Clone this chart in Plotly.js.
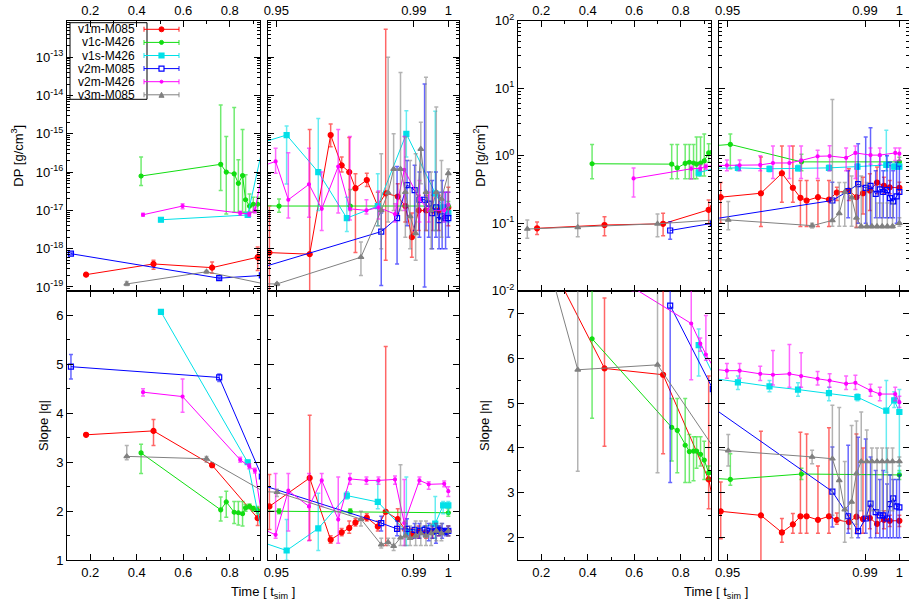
<!DOCTYPE html>
<html><head><meta charset="utf-8">
<script src="https://cdn.plot.ly/plotly-3.0.1.min.js"></script>
<style>html,body{margin:0;padding:0;background:#fff}#chart{width:909px;height:608px}</style>
</head><body><div id="chart"></div><script>
// ---------------- data ----------------
const SERIES_NAMES = ['v1m-M085','v1c-M426','v1s-M426','v2m-M085','v2m-M426','v3m-M085'];
const LOG_TICKS_DP3 = [1e-19,1e-18,1e-17,1e-16,1e-15,1e-14,1e-13];
const LOG_TEXT_DP3 = ['10<sup>-19</sup>','10<sup>-18</sup>','10<sup>-17</sup>','10<sup>-16</sup>','10<sup>-15</sup>','10<sup>-14</sup>','10<sup>-13</sup>'];
const LOG_TICKS_DP2 = [1e-2,1e-1,1,10,100];
const LOG_TEXT_DP2 = ['10<sup>-2</sup>','10<sup>-1</sup>','10<sup>0</sup>','10<sup>1</sup>','10<sup>2</sup>'];
const X_TICKS_EARLY = [0.2,0.4,0.6,0.8];
const X_TEXT_EARLY = ['0.2','0.4','0.6','0.8'];
const X_TICKS_LATE = [0.95,0.99,1];
const X_TEXT_LATE = ['0.95','0.99','1'];

// v1m-M085 (red)
const T_V1M = [0.182,0.472,0.724,0.92,0.948,0.9597,0.9658,0.969,0.9712,0.973,0.9763,0.9795,0.9818,0.9853,0.9875,0.9894,0.9914,0.9935,0.9955,0.9972,1.0];
const DP3_V1M = [2.1e-19,4e-19,3.2e-19,6e-19,7.9e-19,7.2e-19,9.3e-16,1.5e-16,1e-16,3.8e-17,6.2e-17,1.3e-17,2.8e-17,2.3e-17,1.3e-17,2e-18,1e-17,1e-17,1e-17,1e-17,1.2e-17];
const DP3_LO_V1M = [1.9e-19,2.9e-19,2.3e-19,2.7e-19,1e-20,1e-20,4.6e-16,1e-16,1.3e-17,8e-19,4.2e-17,4e-18,5e-19,8e-18,5e-18,6e-19,3e-18,3e-18,3e-18,3e-18,4e-18];
const DP3_HI_V1M = [2.3e-19,5e-19,4.5e-19,1.1e-18,1.3e-17,1.3e-15,1.8e-15,2.5e-16,8e-16,9e-17,9.3e-17,3e-17,5.4e-13,5e-17,3e-17,8.5e-18,2.5e-17,2.5e-17,2.5e-17,2.5e-17,4e-17];
const DP2_V1M = [0.084,0.094,0.098,0.158,0.243,0.278,0.55,0.335,0.238,0.217,0.243,0.224,0.285,0.305,0.243,0.278,0.305,0.40,0.358,0.34,0.335];
const DP2_LO_V1M = [0.068,0.065,0.065,0.098,0.1,0.089,0.204,0.204,0.089,0.089,0.089,0.089,0.217,0.217,0.087,0.137,0.154,0.272,0.272,0.272,0.272];
const DP2_HI_V1M = [0.104,0.125,0.14,0.22,0.4,0.953,1.39,1.39,0.43,0.43,0.43,0.43,0.342,0.64,0.64,0.48,0.54,0.68,0.48,0.43,0.405];
const Q_V1M = [3.56,3.64,2.94,1.86,2.1,2.68,1.42,1.57,1.66,1.77,1.87,1.69,1.99,1.84,1.62,1.54,1.59,1.57,1.58,1.6,1.6];
const Q_LO_V1M = [3.53,3.34,2.9,1.71,1.63,1.41,1.35,1.5,1.55,1.7,1.8,1.6,1.3,1.6,1.5,1.45,1.45,1.45,1.45,1.5,1.5];
const Q_HI_V1M = [3.59,3.87,2.98,2.07,2.75,3.96,1.5,1.65,1.8,1.85,1.95,1.8,5.36,2.05,1.75,1.65,1.7,1.7,1.7,1.7,1.7];
const N_V1M = [8.7,5.77,5.63,3.3,2.59,2.5,2.12,2.3,2.48,2.48,2.4,2.48,2.4,2.35,2.47,2.42,2.44,2.31,2.4,2.38,2.38];
const N_LO_V1M = [8.5,4.04,3.87,2.65,1.98,1.46,1.9,2.1,2.1,2.1,2.1,2.1,2.3,2.2,2.1,2.1,2.2,2.1,2.2,2.25,2.25];
const N_HI_V1M = [8.9,7.34,7.6,5.6,3.24,4.37,2.43,2.54,4.35,4.31,3.6,4.45,2.55,2.5,4.31,4.0,2.7,2.5,2.6,2.5,2.5];

// v1c-M426 (green)
const T_V1C = [0.4186,0.761,0.785,0.819,0.837,0.855,0.868,0.885,0.901,0.92,0.9508,0.9715,1.0];
const DP3_V1C = [7.9e-17,1.6e-16,1e-16,9e-17,5.1e-17,8.1e-17,1.9e-17,1.3e-17,1.45e-17,1.45e-17,1.3e-17,1.3e-17,1.3e-17];
const DP3_LO_V1C = [4.5e-17,3.3e-17,8e-18,9e-18,9e-18,9e-18,9e-18,9e-18,9e-18,9e-18,9e-18,1e-17,1e-17];
const DP3_HI_V1C = [2.5e-16,5.7e-15,8.5e-16,4.9e-15,2.1e-16,1.3e-15,8.5e-17,2.7e-17,2.2e-17,2.2e-17,2e-17,3.5e-17,1.7e-17];
const DP2_V1C = [0.76,0.75,0.66,0.77,0.8,0.78,0.75,0.78,0.84,1.1,1.47,0.81,0.81];
const DP2_LO_V1C = [0.455,0.455,0.455,0.455,0.455,0.455,0.455,0.5,0.5,0.8,0.64,0.6,0.7];
const DP2_HI_V1C = [1.46,1.46,1.46,1.46,1.46,1.46,1.9,1.9,2.1,1.5,2.1,1.05,0.95];
const Q_V1C = [3.19,2.03,2.19,1.98,1.97,1.95,2.07,2.1,2.06,2.02,2.0,2.0,1.97];
const Q_LO_V1C = [2.77,1.8,1.88,1.75,1.72,1.7,2.0,2.05,2.0,1.95,1.95,1.95,1.9];
const Q_HI_V1C = [3.37,2.29,2.41,2.2,2.2,2.2,2.14,2.15,2.1,2.1,2.05,2.05,2.05];
const N_V1C = [6.43,4.46,4.39,4.06,3.92,3.93,3.93,3.86,3.73,3.45,3.3,3.42,3.4];
const N_LO_V1C = [4.66,3.71,3.45,3.23,3.23,3.27,3.55,3.6,3.3,3.3,3.17,3.3,3.3];
const N_HI_V1C = [7.9,5.1,5.1,5.1,4.3,4.25,4.25,4.25,4.15,3.6,3.87,3.55,3.5];

// v1s-M426 (cyan)
const T_V1S = [0.504,0.877,0.953,0.9622,0.9705,0.9795,0.9878,0.9962,0.9985,1.0];
const DP3_V1S = [5.7e-18,7.6e-18,9.3e-16,1e-16,6.3e-18,1.3e-17,1e-15,2.8e-17,1.2e-17,8.5e-18];
const DP3_LO_V1S = [5.2e-18,6.6e-18,4.9e-17,1e-17,2.8e-18,4e-18,2.5e-16,3e-18,5e-18,5e-18];
const DP3_HI_V1S = [6.2e-18,8.6e-18,1.6e-15,2.5e-15,2.2e-17,9e-17,4e-15,3.9e-15,3e-17,1.5e-17];
const DP2_V1S = [null,0.56,0.66,0.64,0.65,0.66,0.69,0.73,0.69,0.69];
const DP2_LO_V1S = [null,0.5,0.6,0.58,0.6,0.6,0.63,0.6,0.63,0.63];
const DP2_HI_V1S = [null,0.62,0.72,0.7,0.72,0.72,0.76,2.38,0.76,0.76];
const Q_V1S = [6.07,3.0,1.2,1.65,2.32,2.19,1.58,1.75,2.12,2.12];
const Q_LO_V1S = [6.04,2.97,1.0,1.2,2.25,2.05,1.3,1.45,1.95,1.95];
const Q_HI_V1S = [6.1,3.03,1.83,2.37,2.4,2.6,2.7,2.3,2.2,2.2];
const N_V1S = [null,6.29,5.46,5.37,5.3,5.22,5.13,4.83,5.06,4.8];
const N_LO_V1S = [null,5.6,5.3,5.25,5.15,5.05,5.05,3.46,4.9,3.46];
const N_HI_V1S = [null,6.65,5.6,5.5,5.45,5.35,5.2,5.5,5.25,5.3];

// v2m-M085 (blue)
const T_V2M = [0.117,0.7545,0.938,0.9805,0.9851,0.988,0.9902,0.9916,0.9931,0.9943,0.9953,0.9964,0.9973,0.9982,0.9992,1.0];
const DP3_V2M = [7.4e-19,1.7e-19,2e-19,2.8e-18,6.3e-18,4.6e-17,3.4e-17,1.9e-17,1.9e-17,1.5e-17,8.5e-18,1.2e-17,5.6e-18,7e-18,6.3e-18,6.3e-18];
const DP3_LO_V2M = [7e-19,1.6e-19,1.9e-19,1.1e-19,4e-19,4e-18,3e-18,2e-18,1e-19,2e-18,1e-18,2e-18,1e-18,1e-18,1e-18,2e-18];
const DP3_HI_V2M = [7.8e-19,1.8e-19,2.1e-19,8.5e-18,1.4e-16,2e-16,1.5e-16,1e-16,2e-14,1e-16,6e-17,1e-16,3e-17,6e-17,3e-17,3e-17];
const DP2_V2M = [null,0.078,0.1,0.217,0.3,0.38,0.334,0.358,0.272,0.316,0.29,0.31,0.236,0.21,0.25,0.29];
const DP2_LO_V2M = [null,0.058,0.09,0.11,0.12,0.1,0.1,0.09,0.12,0.12,0.12,0.12,0.12,0.12,0.1,0.1];
const DP2_HI_V2M = [null,0.105,0.11,0.405,0.6,1.5,1.9,2.6,0.6,1.0,0.6,1.0,0.8,0.6,0.8,0.7];
const Q_V2M = [4.95,4.73,2.71,1.76,1.64,1.64,1.62,1.6,1.62,1.6,1.58,1.6,1.62,1.6,1.58,1.6];
const Q_LO_V2M = [4.7,4.65,2.65,1.6,1.5,1.5,1.45,1.45,1.5,1.4,1.45,1.35,1.5,1.45,1.5,1.5];
const Q_HI_V2M = [5.2,4.8,2.77,1.9,1.8,1.85,1.75,1.75,1.7,1.75,1.7,1.75,1.7,1.75,1.65,1.7];
const N_V2M = [null,7.17,5.31,3.03,2.48,2.15,2.43,2.76,2.57,2.5,2.5,2.43,2.75,2.88,2.7,2.68];
const N_LO_V2M = [null,3.23,5.2,2.24,2.1,2.0,2.1,2.0,2.0,2.0,2.0,2.0,2.0,2.0,2.0,2.0];
const N_HI_V2M = [null,7.8,5.4,4.02,4.06,4.24,4.2,3.8,3.5,3.3,3.5,3.2,3.4,3.3,3.3,3.4];

// v2m-M426 (magenta)
const T_V2M4 = [0.427,0.597,0.845,0.884,0.908,0.9498,0.9535,0.9595,0.9632,0.968,0.9714,0.9762,0.9797,0.9845,0.9872,0.9916,0.9943,0.9988,1.0];
const DP3_V2M4 = [7.7e-18,1.3e-17,8.5e-18,8e-18,1e-17,1.9e-16,1.9e-17,4.8e-17,1.1e-17,1.4e-16,1.1e-17,1e-17,1.2e-17,8e-18,1.15e-16,2e-17,1e-17,1e-17,1.4e-17];
const DP3_LO_V2M4 = [7e-18,1.1e-17,7.5e-18,7e-18,8.5e-18,9.3e-17,6.3e-18,6.6e-18,3e-18,8.5e-18,5.6e-18,8e-18,6e-18,5e-18,1e-17,5e-18,5e-18,5e-18,8e-18];
const DP3_HI_V2M4 = [8.4e-18,1.5e-17,9.5e-18,9e-18,1.2e-17,4.2e-16,3.2e-16,4.2e-16,1e-16,1.3e-15,8.5e-16,1.9e-17,3.2e-17,1.5e-17,8.5e-16,6e-17,3e-17,3e-17,3e-17];
const DP2_V2M4 = [null,0.46,0.64,0.65,0.69,0.72,0.72,0.73,0.78,0.78,0.85,0.98,0.99,0.93,1.1,1.02,1.02,1.1,1.07];
const DP2_LO_V2M4 = [null,0.245,0.45,0.6,0.63,0.6,0.6,0.6,0.46,0.46,0.46,0.46,0.6,0.6,0.46,0.75,0.75,0.85,0.85];
const DP2_HI_V2M4 = [null,0.66,0.7,0.72,0.75,0.86,0.86,1.0,1.39,1.39,1.39,1.2,1.4,1.3,1.39,1.3,1.3,1.3,1.3];
const Q_V2M4 = [4.43,4.34,3.05,2.92,2.83,1.52,2.42,2.1,2.63,1.83,2.66,2.63,2.63,2.65,1.76,2.63,2.55,2.56,2.41];
const Q_LO_V2M4 = [4.35,4.02,3.0,2.87,2.78,1.45,1.6,1.4,2.1,1.35,2.55,2.55,2.55,2.55,1.3,2.55,2.45,2.5,2.3];
const Q_HI_V2M4 = [4.5,4.7,3.1,2.97,2.88,2.77,2.77,2.77,2.77,2.7,2.77,2.7,2.7,2.72,2.65,2.7,2.6,2.62,2.5];
const N_V2M4 = [8.2,7.56,6.77,6.32,6.08,5.72,5.72,5.65,5.63,5.65,5.6,5.54,5.5,5.43,5.45,5.28,5.2,5.2,5.02];
const N_LO_V2M4 = [8.1,7.5,5.52,6.15,5.95,5.55,5.55,5.5,5.4,5.35,5.35,5.4,5.35,5.3,5.3,5.15,5.05,5.05,4.9];
const N_HI_V2M4 = [8.3,7.6,7.6,6.45,6.95,5.88,5.88,5.82,6.17,6.3,6.12,5.7,5.65,5.6,5.62,5.42,5.35,5.35,5.15];

// v3m-M085 (gray)
const T_V3M = [0.14,0.357,0.70,0.9502,0.9746,0.9805,0.9825,0.9841,0.9861,0.9875,0.9889,0.9905,0.992,0.9935,0.995,0.9965,0.998,1.0];
const DP3_V3M = [null,1.2e-19,2.5e-19,1.2e-19,6e-19,1e-17,2.9e-17,1.2e-16,1.2e-16,3e-17,7e-18,2.5e-18,4e-16,3e-17,1e-17,3e-17,2e-17,9.3e-17];
const DP3_LO_V3M = [null,1.1e-19,2.3e-19,1.1e-19,2e-19,1e-18,5e-18,1e-17,1e-17,2e-18,1e-18,5e-19,5e-17,3e-18,1e-18,3e-18,2e-18,1e-17];
const DP3_HI_V3M = [null,1.4e-19,2.7e-19,1.3e-19,1.5e-18,3e-16,1e-13,1e-15,4e-14,8e-16,2e-16,3e-16,2e-15,3e-14,1e-16,5e-15,2e-16,1.2e-16];
const DP2_V3M = [0.082,0.087,0.098,0.112,0.092,0.11,0.14,0.29,0.24,0.12,0.09,0.09,0.09,0.09,0.09,0.09,0.09,0.1];
const DP2_LO_V3M = [0.06,0.063,0.063,0.08,0.085,0.09,0.09,0.09,0.09,0.085,0.085,0.085,0.085,0.085,0.085,0.085,0.085,0.09];
const DP2_HI_V3M = [0.112,0.14,0.137,0.21,0.1,6.8,0.4,0.4,0.5,0.35,0.5,0.4,0.3,0.2,0.2,0.2,0.2,0.12];
const Q_V3M = [null,3.12,3.07,2.39,1.84,1.32,1.37,1.29,1.46,1.5,1.45,1.5,1.55,1.5,1.55,1.6,1.55,1.6];
const Q_LO_V3M = [null,3.05,3.0,2.3,1.7,1.25,1.3,1.2,1.3,1.3,1.3,1.3,1.3,1.3,1.3,1.4,1.4,1.5];
const Q_HI_V3M = [null,3.34,3.12,2.45,2.0,1.45,1.45,1.45,2.95,1.8,1.7,1.8,1.8,1.8,1.75,1.75,1.75,1.7];
const N_V3M = [9.8,5.74,5.85,3.94,3.8,3.76,3.28,2.63,2.8,3.43,3.7,3.7,3.7,3.7,3.7,3.7,3.7,3.7];
const N_LO_V3M = [9.7,3.48,3.45,3.6,3.65,2.5,2.4,1.9,2.0,2.3,2.6,2.5,2.6,2.6,2.6,2.6,2.6,3.6];
const N_HI_V3M = [9.9,7.6,7.6,4.3,3.95,4.95,4.9,3.7,4.5,4.6,4.8,4.4,4.0,4.0,4.0,4.0,4.0,3.8];

// ---------------- styling / assembly ----------------
const FONT = 'Liberation Sans, Arial, Helvetica, sans-serif';
const STYLE = [
  {color:'#ff0000', err:'rgba(255,0,0,0.6)',   symbol:'circle',        size:5},
  {color:'#11dd11', err:'rgba(17,221,17,0.6)', symbol:'circle',        size:4},
  {color:'#00e0e8', err:'rgba(0,224,232,0.6)', symbol:'square',        size:5},
  {color:'#0000ff', err:'rgba(0,0,255,0.6)',   symbol:'square-open',   size:5},
  {color:'#ff00ff', err:'rgba(255,0,255,0.6)', symbol:'circle',        size:3},
  {color:'#808080', err:'rgba(128,128,128,0.6)', symbol:'triangle-up', size:5}
];
const DATA = [
  {T:T_V1M, dp3:[DP3_V1M,DP3_LO_V1M,DP3_HI_V1M], q:[Q_V1M,Q_LO_V1M,Q_HI_V1M], dp2:[DP2_V1M,DP2_LO_V1M,DP2_HI_V1M], n:[N_V1M,N_LO_V1M,N_HI_V1M]},
  {T:T_V1C, dp3:[DP3_V1C,DP3_LO_V1C,DP3_HI_V1C], q:[Q_V1C,Q_LO_V1C,Q_HI_V1C], dp2:[DP2_V1C,DP2_LO_V1C,DP2_HI_V1C], n:[N_V1C,N_LO_V1C,N_HI_V1C]},
  {T:T_V1S, dp3:[DP3_V1S,DP3_LO_V1S,DP3_HI_V1S], q:[Q_V1S,Q_LO_V1S,Q_HI_V1S], dp2:[DP2_V1S,DP2_LO_V1S,DP2_HI_V1S], n:[N_V1S,N_LO_V1S,N_HI_V1S]},
  {T:T_V2M, dp3:[DP3_V2M,DP3_LO_V2M,DP3_HI_V2M], q:[Q_V2M,Q_LO_V2M,Q_HI_V2M], dp2:[DP2_V2M,DP2_LO_V2M,DP2_HI_V2M], n:[N_V2M,N_LO_V2M,N_HI_V2M]},
  {T:T_V2M4, dp3:[DP3_V2M4,DP3_LO_V2M4,DP3_HI_V2M4], q:[Q_V2M4,Q_LO_V2M4,Q_HI_V2M4], dp2:[DP2_V2M4,DP2_LO_V2M4,DP2_HI_V2M4], n:[N_V2M4,N_LO_V2M4,N_HI_V2M4]},
  {T:T_V3M, dp3:[DP3_V3M,DP3_LO_V3M,DP3_HI_V3M], q:[Q_V3M,Q_LO_V3M,Q_HI_V3M], dp2:[DP2_V3M,DP2_LO_V3M,DP2_HI_V3M], n:[N_V3M,N_LO_V3M,N_HI_V3M]}
];
const PANELS = [
  {key:'dp3', axes:[['x','y'],['x2','y2']]},
  {key:'q',   axes:[['x3','y3'],['x4','y4']]},
  {key:'dp2', axes:[['x5','y5'],['x6','y6']]},
  {key:'n',   axes:[['x7','y7'],['x8','y8']]}
];

const traces = [];
PANELS.forEach(p => {
  p.axes.forEach(ax => {
    DATA.forEach((s, i) => {
      const [v, lo, hi] = s[p.key];
      const st = STYLE[i];
      traces.push({
        type:'scatter', mode:'lines+markers', name:SERIES_NAMES[i],
        x:s.T, y:v, xaxis:ax[0], yaxis:ax[1], showlegend:false,
        line:{color:st.color, width:1},
        marker:{symbol:st.symbol, size:st.size, color:st.color, line:{color:st.color, width:1.2}},
        error_y:{type:'data', symmetric:false,
          array:v.map((val,k)=> val==null?null:hi[k]-val),
          arrayminus:v.map((val,k)=> val==null?null:val-lo[k]),
          color:st.err, thickness:1.5, width:2},
        hoverinfo:'skip'
      });
    });
  });
});

const W = 909, H = 608;
const colA = [67/W, 260/W], colB = [267.7/W, 459/W], colC = [518/W, 711/W], colD = [719/W, 1];
const rowTop = [1-290.7/H, 1-20.7/H], rowBot = [1-560.3/H, 1-290.7/H];
const tickfont = {family:FONT, size:13, color:'#000'};
const base = {showline:true, linecolor:'#000', linewidth:1, mirror:'ticks', ticks:'inside', ticklen:6,
  tickcolor:'#000', showgrid:false, zeroline:false, tickfont:tickfont, fixedrange:true};
const minorX = {ticks:'inside', ticklen:3, dtick:0.1, tickcolor:'#000', showgrid:false};
function xEarly(dom, anchor, side){ return Object.assign({}, base, {domain:dom, anchor:anchor, side:side, range:[0.1,0.93],
  tickmode:'array', tickvals:X_TICKS_EARLY, ticktext:X_TEXT_EARLY, minor:minorX}); }
function xLate(dom, anchor, side, hiEnd){ return Object.assign({}, base, {domain:dom, anchor:anchor, side:side, range:[0.9475,hiEnd],
  tickmode:'array', tickvals:X_TICKS_LATE, ticktext:X_TEXT_LATE}); }
function yLog(dom, anchor, range, tv, tt, labels, title, standoff){ return Object.assign({}, base, {domain:dom, anchor:anchor, type:'log', range:range,
  tickmode:'array', tickvals:tv, ticktext:tt, showticklabels:labels,
  minor:{ticks:'inside', ticklen:3, tickcolor:'#000', showgrid:false, dtick:'D1'},
  title: title ? {text:title, font:{family:FONT, size:13, color:'#000'}, standoff:standoff} : undefined}); }
function yLin(dom, anchor, range, labels, title, standoff){ return Object.assign({}, base, {domain:dom, anchor:anchor, range:range, dtick:1,
  showticklabels:labels, minor:{ticks:'inside', ticklen:3, dtick:0.5, tickcolor:'#000', showgrid:false},
  title: title ? {text:title, font:{family:FONT, size:13, color:'#000'}, standoff:standoff} : undefined}); }

const dp3Range = [Math.log10(8e-20), Math.log10(9e-13)];
const layout = {
  width:W, height:H, margin:{l:0,r:0,t:0,b:0}, paper_bgcolor:'#fff', plot_bgcolor:'#fff',
  showlegend:false, font:{family:FONT, size:13, color:'#000'},
  xaxis: xEarly(colA,'y','top'),
  yaxis: yLog(rowTop,'x',dp3Range,LOG_TICKS_DP3,LOG_TEXT_DP3,true,'DP [g/cm<sup>3</sup>]',9),
  xaxis2: xLate(colB,'y2','top',1.0031),
  yaxis2: yLog(rowTop,'x2',dp3Range,LOG_TICKS_DP3,LOG_TEXT_DP3,false,null,0),
  xaxis3: xEarly(colA,'y3','bottom'),
  yaxis3: yLin(rowBot,'x3',[1,6.5],true,'Slope |q|',4),
  xaxis4: xLate(colB,'y4','bottom',1.0031),
  yaxis4: yLin(rowBot,'x4',[1,6.5],false,null,0),
  xaxis5: xEarly(colC,'y5','top'),
  yaxis5: yLog(rowTop,'x5',[-2,2],LOG_TICKS_DP2,LOG_TEXT_DP2,true,'DP [g/cm<sup>2</sup>]',3),
  xaxis6: xLate(colD,'y6','top',1.0028),
  yaxis6: yLog(rowTop,'x6',[-2,2],LOG_TICKS_DP2,LOG_TEXT_DP2,false,null,0),
  xaxis7: xEarly(colC,'y7','bottom'),
  yaxis7: yLin(rowBot,'x7',[1.5,7.5],true,'Slope |n|',14),
  xaxis8: xLate(colD,'y8','bottom',1.0028),
  yaxis8: yLin(rowBot,'x8',[1.5,7.5],false,null,0),
  annotations: [
    {text:'Time [ t<sub>sim</sub> ]', xref:'paper', yref:'paper', x:263/W, y:1-592/H, xanchor:'center', yanchor:'middle', showarrow:false, font:{family:FONT,size:13,color:'#000'}},
    {text:'Time [ t<sub>sim</sub> ]', xref:'paper', yref:'paper', x:716/W, y:1-592/H, xanchor:'center', yanchor:'middle', showarrow:false, font:{family:FONT,size:13,color:'#000'}}
  ],
  shapes: []
};

// legend (drawn as a key box in the top-left panel)
const LEG_X_TEXT = 136/W, LEG_X0 = 144/W, LEG_X1 = 179/W, LEG_XM = 161.5/W;
const LEG_ROW0 = 29.3, LEG_DY = 13.1;
layout.shapes.push({type:'rect', xref:'paper', yref:'paper', x0:70/W, x1:147/W, y0:1-99.3/H, y1:1-22.7/H, line:{color:'#000', width:1}, fillcolor:'rgba(0,0,0,0)'});
SERIES_NAMES.forEach((nm, i) => {
  const yy = 1-(LEG_ROW0 + i*LEG_DY)/H;
  const st = STYLE[i];
  layout.annotations.push({text:nm, xref:'paper', yref:'paper', x:LEG_X_TEXT, y:yy, xanchor:'right', yanchor:'middle', showarrow:false, borderpad:0, font:{family:FONT,size:12,color:'#000'}});
  layout.shapes.push({type:'line', xref:'paper', yref:'paper', x0:LEG_X0, x1:LEG_X1, y0:yy, y1:yy, line:{color:st.color, width:1}});
  [LEG_X0, LEG_X1].forEach(xc => layout.shapes.push({type:'line', xref:'paper', yref:'paper', x0:xc, x1:xc, y0:yy-2.5/H, y1:yy+2.5/H, line:{color:st.err, width:1.5}}));
  const r = st.size/2;
  if (st.symbol.startsWith('square')) {
    layout.shapes.push({type:'rect', xref:'paper', yref:'paper', x0:LEG_XM-r/W, x1:LEG_XM+r/W, y0:yy-r/H, y1:yy+r/H, line:{color:st.color,width:1.2}, fillcolor: st.symbol==='square-open' ? '#fff' : st.color});
  } else if (st.symbol === 'triangle-up') {
    const cx = LEG_XM*W, cy = (1-yy)*H;
    layout.shapes.push({type:'path', xref:'paper', yref:'paper', path:`M ${(cx-r)/W} ${1-(cy+r)/H} L ${(cx+r)/W} ${1-(cy+r)/H} L ${cx/W} ${1-(cy-r)/H} Z`, line:{color:st.color,width:1}, fillcolor:st.color});
  } else {
    layout.shapes.push({type:'circle', xref:'paper', yref:'paper', x0:LEG_XM-r/W, x1:LEG_XM+r/W, y0:yy-r/H, y1:yy+r/H, line:{color:st.color,width:1}, fillcolor:st.color});
  }
});

Plotly.newPlot('chart', traces, layout, {staticPlot:true, displayModeBar:false});
</script></body></html>
